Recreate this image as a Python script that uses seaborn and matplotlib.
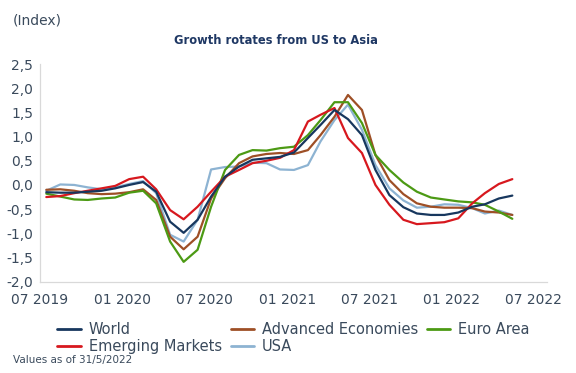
import pandas as pd
import matplotlib
matplotlib.use("Agg")
import matplotlib.pyplot as plt
import matplotlib.dates as mdates
from matplotlib.ticker import FuncFormatter
import seaborn as sns

# ---------- data (monthly, Jul 2019 .. May 2022) ----------
months = pd.date_range("2019-07-01", "2022-05-01", freq="MS") + pd.Timedelta(days=14)

world = [-0.15, -0.16, -0.16, -0.14, -0.12, -0.07, 0.00, 0.06, -0.14, -0.76,
         -0.99, -0.72, -0.24, 0.17, 0.38, 0.52, 0.55, 0.58, 0.67, 0.97,
         1.24, 1.55, 1.36, 1.03, 0.31, -0.21, -0.46, -0.59, -0.62, -0.62,
         -0.57, -0.45, -0.40, -0.28, -0.22]
advanced = [-0.10, -0.09, -0.12, -0.17, -0.19, -0.18, -0.15, -0.09, -0.31, -1.07,
            -1.33, -1.07, -0.28, 0.14, 0.45, 0.59, 0.64, 0.66, 0.64, 0.72,
            1.03, 1.41, 1.86, 1.55, 0.62, 0.10, -0.19, -0.38, -0.45, -0.47,
            -0.47, -0.48, -0.55, -0.57, -0.62]
euro = [-0.18, -0.24, -0.30, -0.31, -0.28, -0.26, -0.16, -0.12, -0.38, -1.17,
        -1.59, -1.34, -0.45, 0.31, 0.62, 0.72, 0.71, 0.76, 0.79, 1.03,
        1.34, 1.71, 1.71, 1.28, 0.62, 0.31, 0.05, -0.14, -0.26, -0.30,
        -0.34, -0.36, -0.41, -0.55, -0.70]
emerging = [-0.25, -0.23, -0.17, -0.12, -0.07, -0.02, 0.12, 0.17, -0.09, -0.52,
            -0.71, -0.45, -0.14, 0.17, 0.31, 0.45, 0.50, 0.56, 0.72, 1.31,
            1.45, 1.59, 0.97, 0.66, 0.00, -0.41, -0.72, -0.81, -0.79, -0.77,
            -0.69, -0.38, -0.17, 0.02, 0.12]
usa = [-0.12, 0.01, 0.00, -0.05, -0.09, -0.05, 0.02, 0.08, -0.17, -1.03,
       -1.17, -0.72, 0.32, 0.37, 0.38, 0.46, 0.45, 0.32, 0.31, 0.41,
       0.90, 1.34, 1.66, 1.14, 0.41, -0.07, -0.32, -0.47, -0.45, -0.40,
       -0.41, -0.48, -0.59, -0.53, -0.62]

series_names = ["World", "Emerging Markets", "Advanced Economies", "USA", "Euro Area"]
series_values = [world, emerging, advanced, usa, euro]
colors = {
    "World": "#17375E",
    "Emerging Markets": "#D7181E",
    "Advanced Economies": "#9E4F26",
    "USA": "#8DB3D2",
    "Euro Area": "#4C9A14",
}

df = pd.concat(
    [pd.DataFrame({"date": months, "value": v, "series": n})
     for n, v in zip(series_names, series_values)],
    ignore_index=True,
)

# ---------- plot ----------
sns.set_style("white")
plt.rcParams["font.family"] = ["DejaVu Sans"]
text_col = "#3A4A5C"

fig = plt.figure(figsize=(5.76, 3.73), dpi=100)
ax = fig.add_axes([40 / 576, 1 - 281.7 / 373, 507 / 576, 217.7 / 373])

# draw order: others first, world on top
draw_order = ["USA", "Advanced Economies", "Euro Area", "Emerging Markets", "World"]
sns.lineplot(data=df, x="date", y="value", hue="series", hue_order=draw_order,
             palette=colors, linewidth=1.6, ax=ax, legend=False)

ax.set_ylim(-2.0, 2.5)
ax.set_xlim(pd.Timestamp("2019-07-01"), pd.Timestamp("2022-07-31"))
ax.set_yticks([-2.0, -1.5, -1.0, -0.5, 0.0, 0.5, 1.0, 1.5, 2.0, 2.5])
ax.yaxis.set_major_formatter(FuncFormatter(lambda v, p: f"{v:.1f}".replace(".", ",")))
ax.xaxis.set_major_locator(mdates.MonthLocator(bymonth=[1, 7]))
ax.xaxis.set_minor_locator(mdates.MonthLocator(bymonth=[4, 10]))
ax.xaxis.set_major_formatter(mdates.DateFormatter("%m %Y"))

for s in ["top", "right"]:
    ax.spines[s].set_visible(False)
for s in ["left", "bottom"]:
    ax.spines[s].set_color("#D9D9D9")
    ax.spines[s].set_linewidth(0.9)

ax.tick_params(axis="x", which="both", direction="out", length=5, width=0.8,
               color="#D9D9D9", labelcolor=text_col, labelsize=10, pad=3)
ax.tick_params(axis="y", length=0, labelcolor=text_col, labelsize=10, pad=5)
ax.set_xlabel("")
ax.set_ylabel("")
ax.grid(False)

fig.text(13 / 576, 1 - 20 / 373, "(Index)", fontsize=10, color=text_col,
         va="center", ha="left")
fig.text(276 / 576, 1 - 41 / 373, "Growth rotates from US to Asia", fontsize=8.3,
         fontweight="bold", color="#1F3864", va="center", ha="center")
fig.text(13 / 576, 1 - 360 / 373, "Values as of 31/5/2022", fontsize=7.5,
         color=text_col, va="center", ha="left")

# legend (column-wise fill: World/EM, AE/USA, Euro Area)
handles = [plt.Line2D([], [], color=colors[n], linewidth=2) for n in series_names]
leg = fig.legend(handles, series_names, ncol=3, loc="center left",
                 bbox_to_anchor=(50 / 576, 1 - 338 / 373), frameon=False,
                 fontsize=10.5, handlelength=1.6, handletextpad=0.55,
                 columnspacing=0.6, labelspacing=0.15, borderpad=0)
for t in leg.get_texts():
    t.set_color(text_col)

fig.savefig("out.png", dpi=100)
